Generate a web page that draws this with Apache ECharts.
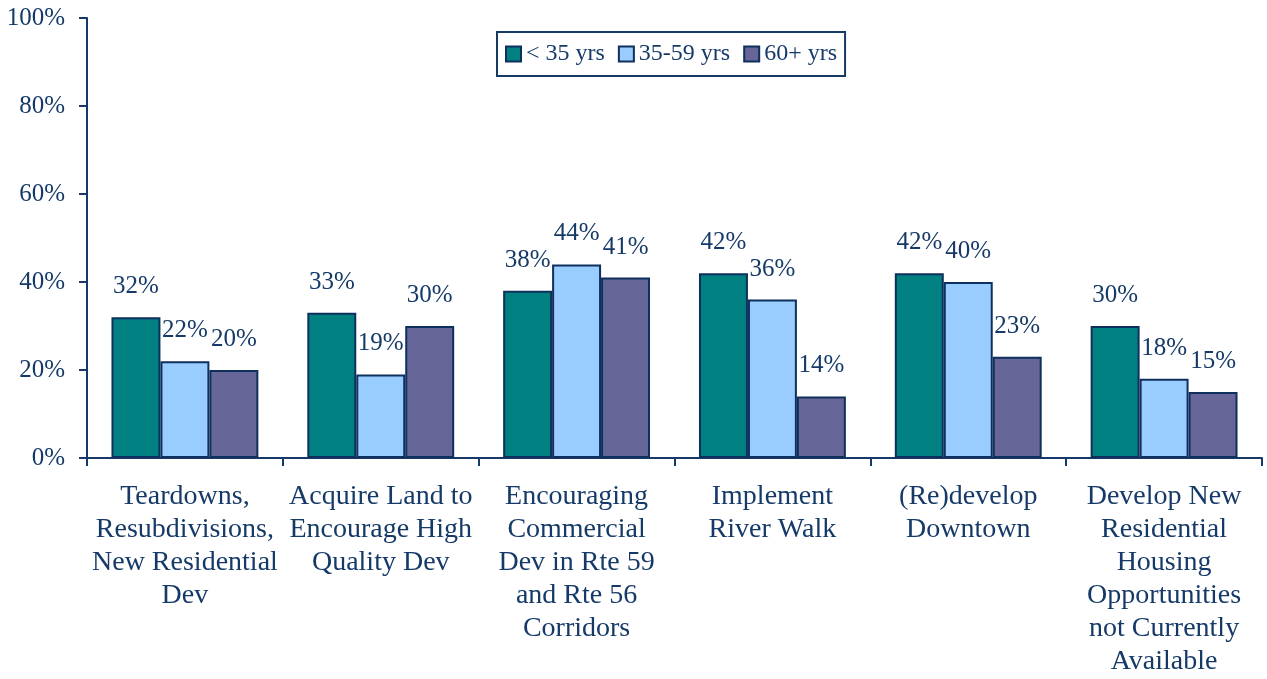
<!DOCTYPE html>
<html><head><meta charset="utf-8">
<script src="https://cdn.jsdelivr.net/npm/echarts@6/dist/echarts.min.js"></script>
<style>html,body{margin:0;padding:0;background:#fff;}#c{width:1267px;height:679px;}</style>
</head><body><div id="c"></div>
<script>
var categories = [
  "Teardowns,\nResubdivisions,\nNew Residential\nDev",
  "Acquire Land to\nEncourage High\nQuality Dev",
  "Encouraging\nCommercial\nDev in Rte 59\nand Rte 56\nCorridors",
  "Implement\nRiver Walk",
  "(Re)develop\nDowntown",
  "Develop New\nResidential\nHousing\nOpportunities\nnot Currently\nAvailable"
];
var seriesNames = ["< 35 yrs", "35-59 yrs", "60+ yrs"];
var under35 = [32, 33, 38, 42, 42, 30];
var age35to59 = [22, 19, 44, 36, 40, 18];
var age60plus = [20, 30, 41, 14, 23, 15];
var yTicks = [0, 20, 40, 60, 80, 100];

var navy = '#163a68';
var border = '#0f2f5c';
var font = '"Liberation Serif", "Times New Roman", serif';
var colors = ['#008080', '#99ccff', '#666699'];
var values = [under35, age35to59, age60plus];

var series = seriesNames.map(function(n, i){
  return {
    name: n, type: 'bar', data: values[i],
    barGap: '0%', barCategoryGap: '25%',
    itemStyle: {color: colors[i], borderColor: border, borderWidth: 2},
    label: {show: true, position: 'top', distance: 18, formatter: '{c}%',
      color: navy, fontFamily: font, fontSize: 25},
    animation: false
  };
});

var chart = echarts.init(document.getElementById('c'));
chart.setOption({
  animation: false,
  grid: {left: 87, right: 5, top: 18, bottom: 221, containLabel: false},
  legend: {
    data: seriesNames, left: 497, top: 32, icon: 'rect',
    padding: [10, 8], itemGap: 13, itemWidth: 15, itemHeight: 15,
    borderColor: navy, borderWidth: 2,
    textStyle: {color: navy, fontFamily: font, fontSize: 24},
    itemStyle: {borderColor: border, borderWidth: 2}
  },
  xAxis: {
    type: 'category', data: categories,
    axisLine: {lineStyle: {color: navy, width: 2}},
    axisTick: {show: true, length: 8, lineStyle: {color: navy, width: 2}},
    axisLabel: {interval: 0, margin: 22, color: navy, fontFamily: font, fontSize: 28, lineHeight: 33, align: 'center'}
  },
  yAxis: {
    type: 'value', min: yTicks[0], max: yTicks[yTicks.length-1], interval: 20,
    axisLine: {show: true, lineStyle: {color: navy, width: 2}},
    axisTick: {show: true, length: 8, lineStyle: {color: navy, width: 2}},
    splitLine: {show: false},
    axisLabel: {margin: 22, color: navy, fontFamily: font, fontSize: 25, formatter: '{value}%'}
  },
  series: series
});
</script></body></html>
